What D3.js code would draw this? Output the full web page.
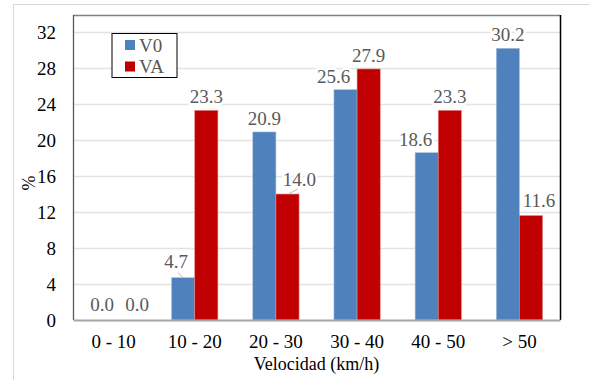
<!DOCTYPE html>
<html><head><meta charset="utf-8">
<script src="https://cdn.jsdelivr.net/npm/d3@7"></script>
</head><body style="margin:0;background:#fff"><svg id="c" width="590" height="380" style="display:block" font-family="Liberation Serif"></svg>
<script>
const categories = ["0 - 10","10 - 20","20 - 30","30 - 40","40 - 50","> 50"];
const seriesNames = ["V0","VA"];
const v0 = [0.0, 4.7, 20.9, 25.6, 18.6, 30.2];
const va = [0.0, 23.3, 14.0, 27.9, 23.3, 11.6];
const yTicks = [0,4,8,12,16,20,24,28,32];
const colors = ["#4F81BD","#C00000"];
// label nudges (layout only): [dx, dy] per series per category
const nudgeV0 = [[0,-2],[-7,-3],[0,0],[-12,0],[-11,0],[0,0]];
const nudgeVA = [[12,-2],[0,0],[12,-1],[0,0],[0,0],[8,-2]];

const svg = d3.select("#c");
const m = {l:73, t:15, r:560, b:320};
svg.append("rect").attr("x",13.5).attr("y",4.5).attr("width",700).attr("height",500)
  .attr("fill","#fff").attr("stroke","#D9D9D9");

const x = d3.scaleBand().domain(categories).range([m.l,m.r]).paddingInner(0.43).paddingOuter(0.215);
const xs = d3.scaleBand().domain(seriesNames).range([0,x.bandwidth()]);
const y = d3.scaleLinear().domain([0,33.9]).range([m.b,m.t]);

svg.append("g").selectAll("line").data(yTicks.filter(d=>d>0)).join("line")
  .attr("x1",m.l).attr("x2",m.r).attr("y1",d=>Math.round(y(d))+0.5).attr("y2",d=>Math.round(y(d))+0.5)
  .attr("stroke","#E3E3E3").attr("stroke-width",1.5);

const ya = svg.append("g").attr("transform",`translate(${m.l},0)`)
  .call(d3.axisLeft(y).tickValues(yTicks).tickSize(0).tickPadding(17).tickFormat(d3.format("d")));
ya.select(".domain").remove();
ya.attr("font-family","Liberation Serif").attr("font-size",19);
ya.selectAll("text").attr("fill","#000").attr("dy","0.34em");

const series = [v0, va];
const nudges = [nudgeV0, nudgeVA];
series.forEach((vals,si)=>{
  svg.append("g").selectAll("rect").data(vals).join("rect")
    .attr("x",(d,i)=>x(categories[i])+xs(seriesNames[si]))
    .attr("width",xs.bandwidth())
    .attr("y",d=>y(d)).attr("height",d=>y(0)-y(d))
    .attr("fill",colors[si])
    .attr("stroke",si===0?"#A9C0DE":"#E08080").attr("stroke-width",0.6);
});

svg.append("line").attr("x1",m.l).attr("x2",m.r).attr("y1",m.t+0.5).attr("y2",m.t+0.5).attr("stroke","#808080").attr("stroke-width",1.5);
svg.append("line").attr("x1",m.l+0.5).attr("x2",m.l+0.5).attr("y1",m.t).attr("y2",m.b).attr("stroke","#595959").attr("stroke-width",1.3);
svg.append("line").attr("x1",m.r+0.5).attr("x2",m.r+0.5).attr("y1",m.t).attr("y2",m.b).attr("stroke","#000").attr("stroke-width",1.5);

const xa = svg.append("g").attr("transform",`translate(0,${m.b})`)
  .call(d3.axisBottom(x).tickSize(0).tickPadding(0));
xa.attr("font-family","Liberation Serif").attr("font-size",19);
xa.select(".domain").attr("stroke","#A6A6A6").attr("stroke-width",2.2);
xa.selectAll("text").attr("fill","#000").attr("dy",0).attr("y",28);

series.forEach((vals,si)=>{
  const g = svg.append("g").attr("font-family","Liberation Serif").attr("font-size",19);
  vals.forEach((d,i)=>{
    const cx = x(categories[i])+xs(seriesNames[si])+xs.bandwidth()/2 + nudges[si][i][0];
    const by = y(d) - 7 + nudges[si][i][1];
    g.append("text").attr("x",cx).attr("y",by).attr("text-anchor","middle")
      .attr("fill","#595959").attr("stroke","#fff").attr("stroke-width",5)
      .attr("paint-order","stroke").attr("stroke-linejoin","round").text(d.toFixed(1));
  });
});
[[0,1],[1,2]].forEach(([si,i])=>{
  const bx = x(categories[i])+xs(seriesNames[si])+xs.bandwidth()/2;
  const by = y(series[si][i]);
  const lx = bx + nudges[si][i][0];
  svg.append("line").attr("x1",si===0?lx+2:lx-2).attr("y1",by-5).attr("x2",si===0?bx:bx+1).attr("y2",by)
    .attr("stroke","#A6A6A6").attr("stroke-width",0.8);
});

const lg = svg.append("g").attr("font-family","Liberation Serif").attr("font-size",19);
lg.append("rect").attr("x",112).attr("y",33.5).attr("width",65).attr("height",44).attr("fill","#fff").attr("stroke","#000").attr("stroke-width",1);
seriesNames.forEach((n,i)=>{
  lg.append("rect").attr("x",125).attr("y",40+i*21.5).attr("width",10).attr("height",10).attr("fill",colors[i]);
  lg.append("text").attr("x",139).attr("y",51.5+i*21.5).attr("fill","#595959").text(n);
});

svg.append("text").attr("transform","translate(35,183) rotate(-90)").attr("text-anchor","middle")
  .attr("font-family","Liberation Serif").attr("font-size",18).attr("fill","#000").text("%");
svg.append("text").attr("x",316.5).attr("y",370).attr("text-anchor","middle")
  .attr("font-family","Liberation Serif").attr("font-size",18).attr("fill","#000").text("Velocidad (km/h)");
</script></body></html>
